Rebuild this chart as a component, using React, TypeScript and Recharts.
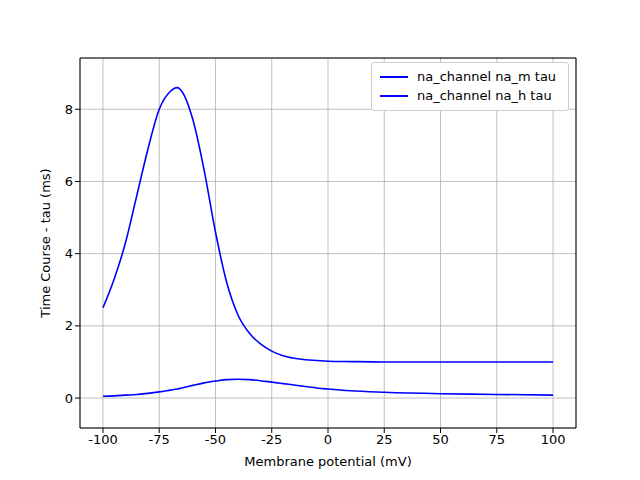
import { LineChart, Line, XAxis, YAxis, CartesianGrid, Legend, Label } from 'recharts';

const voltage = [-100, -95, -90, -85, -80, -75, -70, -67, -65, -60, -55, -50, -45, -40, -35, -30, -25, -20, -15, -10, -5, 0, 10, 25, 50, 75, 100];
const naMTau = [2.5, 3.3, 4.3, 5.6, 6.9, 8.0, 8.5, 8.6, 8.5, 7.7, 6.3, 4.6, 3.2, 2.3, 1.8, 1.5, 1.3, 1.17, 1.1, 1.06, 1.04, 1.02, 1.01, 1.0, 1.0, 1.0, 1.0];
const naHTau = [0.05, 0.06, 0.08, 0.1, 0.13, 0.17, 0.22, 0.25, 0.28, 0.35, 0.42, 0.47, 0.51, 0.52, 0.51, 0.48, 0.44, 0.4, 0.36, 0.32, 0.28, 0.25, 0.2, 0.16, 0.12, 0.1, 0.08];
const xTicks = [-100, -75, -50, -25, 0, 25, 50, 75, 100];
const yTicks = [0, 2, 4, 6, 8];
const seriesNames = ['na_channel na_m tau', 'na_channel na_h tau'];

const data = voltage.map((v, i) => ({ v, m: naMTau[i], h: naHTau[i] }));

const font = { fontFamily: 'DejaVu Sans', fontSize: 13, fill: '#000' };

function LegendBox() {
  return (
    <div style={{ position: 'absolute', left: 371, top: 62, width: 198, height: 49, border: '1px solid #ccc', borderRadius: 3, background: '#fff', fontFamily: 'DejaVu Sans', fontSize: 13, boxSizing: 'border-box', padding: '4px 8px' }}>
      {seriesNames.map((n) => (
        <div key={n} style={{ display: 'flex', alignItems: 'center', height: 19 }}>
          <span style={{ display: 'inline-block', width: 28, height: 0, borderTop: '2px solid #0000ff', marginRight: 9 }} />
          {n}
        </div>
      ))}
    </div>
  );
}

export default function App() {
  return (
    <div style={{ margin: -8, position: 'relative', width: 640, height: 480, background: '#fff' }}>
      <LineChart width={640} height={480} data={data} margin={{ top: 57, right: 63, left: 40, bottom: 22 }}>
        <CartesianGrid stroke="#b0b0b0" strokeWidth={0.8} />
        <XAxis dataKey="v" type="number" domain={[-110.2, 110.2]} ticks={xTicks} height={30} tick={font} tickSize={5} stroke="#000" allowDataOverflow>
          <Label value="Membrane potential (mV)" position="insideBottom" offset={-8} style={font} />
        </XAxis>
        <XAxis xAxisId="top" dataKey="v" type="number" orientation="top" domain={[-110.2, 110.2]} tick={false} tickLine={false} height={1} stroke="#000" />
        <YAxis type="number" domain={[-0.83, 9.42]} ticks={yTicks} width={40} tick={font} tickSize={5} stroke="#000" allowDataOverflow>
          <Label value="Time Course - tau (ms)" angle={-90} position="insideLeft" offset={5} style={{ ...font, textAnchor: 'middle' }} />
        </YAxis>
        <YAxis yAxisId="right" orientation="right" domain={[-0.83, 9.42]} tick={false} tickLine={false} width={1} stroke="#000" />
        <Legend content={() => null} />
        <Line type="monotone" dataKey="m" name={seriesNames[0]} stroke="#0000ff" strokeWidth={1.6} dot={false} isAnimationActive={false} />
        <Line type="monotone" dataKey="h" name={seriesNames[1]} stroke="#0000ff" strokeWidth={1.6} dot={false} isAnimationActive={false} />
      </LineChart>
      <LegendBox />
    </div>
  );
}
